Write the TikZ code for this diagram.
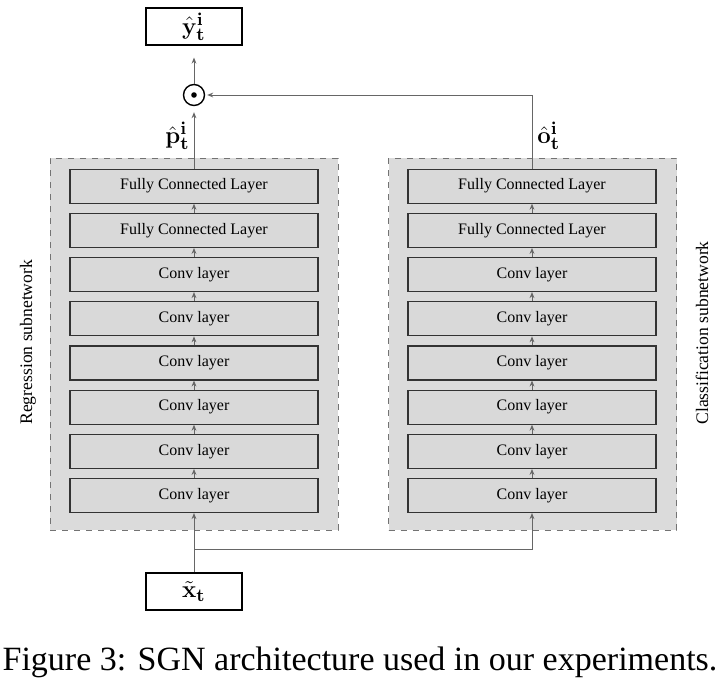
\documentclass[tikz,border=0pt]{standalone}
\usepackage[no-math]{fontspec}
\newfontfamily\tnr{Liberation Serif}
\usetikzlibrary{positioning,arrows.meta}

\begin{document}
\begin{tikzpicture}[x=0.5pt, y=-0.5pt, node distance=4.5pt,
  every node/.style = {inner sep=0pt},
  layer/.style = {shape=rectangle, draw=black!80, fill=black!15,
    line width=0.6pt, minimum width=124pt, minimum height=17pt,
    font=\tnr\fontsize{8}{9.6}\selectfont},
  subnet/.style = {shape=rectangle, draw=black!55, dashed, fill=black!14,
    line width=0.5pt, minimum width=144pt, minimum height=186pt},
  io/.style = {shape=rectangle, draw, fill=white, line width=0.6pt,
    minimum width=48pt, minimum height=18.5pt,
    font=\fontsize{12.5}{14}\selectfont},
  mathlabel/.style = {font=\fontsize{12.5}{14}\selectfont},
  sidelabel/.style = {rotate=90, anchor=west,
    font=\tnr\fontsize{8.8}{10}\selectfont},
  prodnode/.style = {shape=circle, draw, line width=0.7pt,
    minimum size=10.5pt},
  flow/.style = {draw=black!60, line width=0.5pt,
    -{Stealth[length=3pt,width=2.4pt]}}]
  \useasboundingbox (0,0) rectangle (719,687);

  % the two subnetworks
  \node[subnet] (regnet) at (194,344) {};
  \node[subnet] (clsnet) at (532.5,344) {};
  \node[sidelabel] (reglabel) at (28,425) {Regression subnetwork};
  \node[sidelabel] (clslabel) at (702,425) {Classification subnetwork};

  % regression layers
  \node[layer] (rconv1) at (194,495.5) {Conv layer};
  \node[layer, above=of rconv1] (rconv2) {Conv layer};
  \node[layer, above=of rconv2] (rconv3) {Conv layer};
  \node[layer, above=of rconv3] (rconv4) {Conv layer};
  \node[layer, above=of rconv4] (rconv5) {Conv layer};
  \node[layer, above=of rconv5] (rconv6) {Conv layer};
  \node[layer, above=of rconv6] (rfc1) {Fully Connected Layer};
  \node[layer, above=of rfc1] (rfc2) {Fully Connected Layer};

  % classification layers
  \node[layer] (cconv1) at (532,495.5) {Conv layer};
  \node[layer, above=of cconv1] (cconv2) {Conv layer};
  \node[layer, above=of cconv2] (cconv3) {Conv layer};
  \node[layer, above=of cconv3] (cconv4) {Conv layer};
  \node[layer, above=of cconv4] (cconv5) {Conv layer};
  \node[layer, above=of cconv5] (cconv6) {Conv layer};
  \node[layer, above=of cconv6] (cfc1) {Fully Connected Layer};
  \node[layer, above=of cfc1] (cfc2) {Fully Connected Layer};

  \draw[flow] (rconv1) -- (rconv2);
  \draw[flow] (rconv2) -- (rconv3);
  \draw[flow] (rconv3) -- (rconv4);
  \draw[flow] (rconv4) -- (rconv5);
  \draw[flow] (rconv5) -- (rconv6);
  \draw[flow] (rconv6) -- (rfc1);
  \draw[flow] (rfc1) -- (rfc2);
  \draw[flow] (cconv1) -- (cconv2);
  \draw[flow] (cconv2) -- (cconv3);
  \draw[flow] (cconv3) -- (cconv4);
  \draw[flow] (cconv4) -- (cconv5);
  \draw[flow] (cconv5) -- (cconv6);
  \draw[flow] (cconv6) -- (cfc1);
  \draw[flow] (cfc1) -- (cfc2);

  % input, product and output
  \node[io] (xin) at (194,591.5) {$\tilde{\mathbf{x}}_{\mathbf{t}}$};
  \node[io] (yout) at (194,26.5) {$\hat{\mathbf{y}}_{\mathbf{t}}^{\mathbf{i}}$};
  \node[prodnode] (prod) at (194,95) {};
  \fill (prod.center) circle (1.4pt);
  \coordinate (split) at (194,549);

  \draw[flow] (xin) -- (rconv1);
  \draw[flow] (split) -| (cconv1);
  \draw[flow, shorten >=3pt] (rfc2) -- (prod);
  \draw[flow, shorten >=1pt] (cfc2.north) |- (prod);
  \draw[flow, shorten >=6pt] (prod) -- (yout);

  \node[mathlabel, anchor=east] (plabel) at (190,136)
    {$\hat{\mathbf{p}}_{\mathbf{t}}^{\mathbf{i}}$};
  \node[mathlabel, anchor=west] (olabel) at (537,136)
    {$\hat{\mathbf{o}}_{\mathbf{t}}^{\mathbf{i}}$};

  \node[font=\tnr\fontsize{17}{20}\selectfont] (caption) at (360,662)
    {Figure 3: SGN architecture used in our experiments.};
\end{tikzpicture}
\end{document}
